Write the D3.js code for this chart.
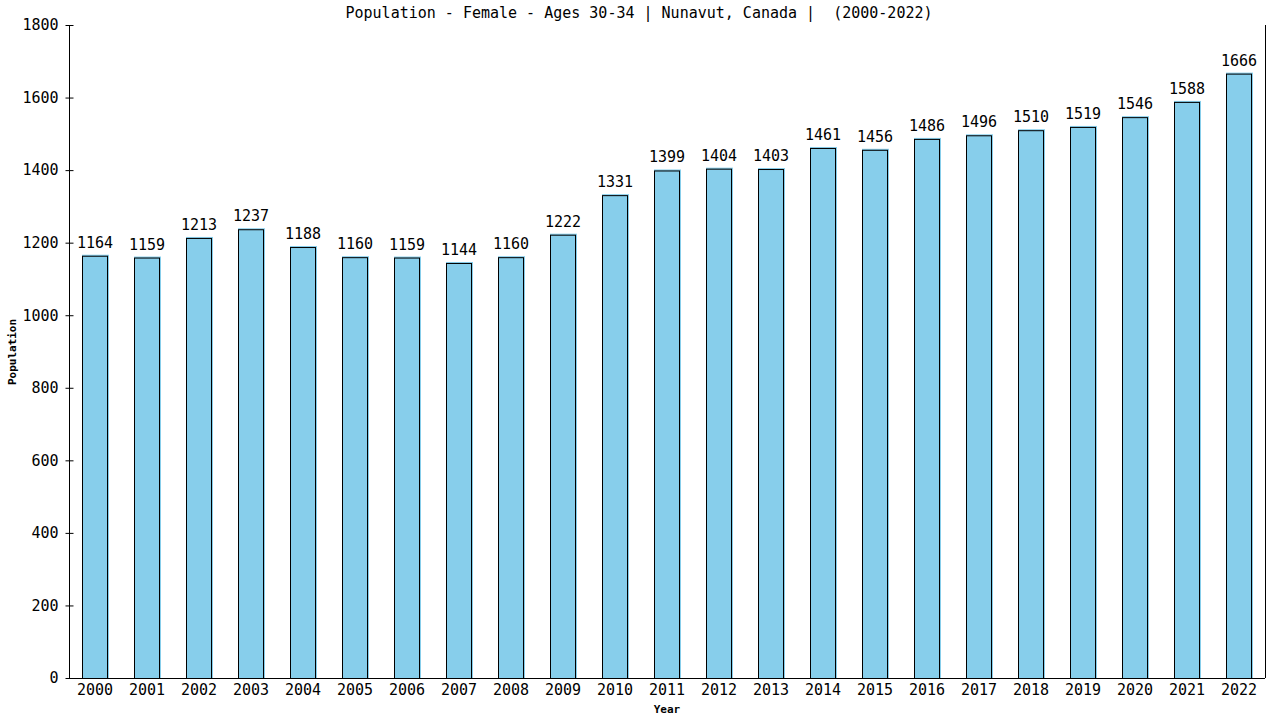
<!DOCTYPE html>
<html>
<head>
<meta charset="utf-8">
<script src="https://cdn.jsdelivr.net/npm/d3@7"></script>
<style>
  body { margin: 0; background: #fff; }
  text { font-family: "DejaVu Sans Mono", "Liberation Mono", monospace; fill: #000; }
</style>
</head>
<body>
<script>
// ------------------------------------------------------------
// data
// ------------------------------------------------------------
const years = ["2000", "2001", "2002", "2003", "2004", "2005", "2006", "2007", "2008", "2009", "2010",
               "2011", "2012", "2013", "2014", "2015", "2016", "2017", "2018", "2019", "2020", "2021", "2022"];
const population = [1164, 1159, 1213, 1237, 1188, 1160, 1159, 1144, 1160, 1222, 1331,
                    1399, 1404, 1403, 1461, 1456, 1486, 1496, 1510, 1519, 1546, 1588, 1666];
const yTicks = [0, 200, 400, 600, 800, 1000, 1200, 1400, 1600, 1800];
const title = "Population - Female - Ages 30-34 | Nunavut, Canada |  (2000-2022)";

// ------------------------------------------------------------
// dimensions
// ------------------------------------------------------------
const width = 1280, height = 720;
const margin = {top: 25, right: 15, bottom: 42, left: 69};

const svg = d3.select("body").append("svg")
    .attr("width", width)
    .attr("height", height);

const x = d3.scaleBand()
    .domain(years)
    .range([margin.left, width - margin.right])
    .paddingInner(0.5)
    .paddingOuter(0.25);

const y = d3.scaleLinear()
    .domain([0, 1800])
    .range([height - margin.bottom, margin.top]);

// bars - light blue fill, slightly offset black outline
const bars = svg.append("g");
bars.selectAll("rect.fill")
    .data(population)
    .enter().append("rect")
    .attr("class", "fill")
    .attr("x", (d, i) => x(years[i]))
    .attr("y", d => y(d) - 1)
    .attr("width", x.bandwidth() + 1)
    .attr("height", d => y(0) - y(d) + 1)
    .attr("fill", "#87ceeb");

bars.selectAll("rect.edge")
    .data(population)
    .enter().append("rect")
    .attr("class", "edge")
    .attr("x", (d, i) => x(years[i]) + 0.5)
    .attr("y", d => y(d) + 0.5)
    .attr("width", x.bandwidth() - 1)
    .attr("height", d => y(0) - y(d))
    .attr("fill", "none")
    .attr("stroke", "#000")
    .attr("stroke-width", 1);

// value labels
svg.append("g").selectAll("text")
    .data(population)
    .enter().append("text")
    .attr("x", (d, i) => x(years[i]) + x.bandwidth() / 2)
    .attr("y", d => y(d) - 8)
    .attr("text-anchor", "middle")
    .style("font-size", "15px")
    .text(d => d);

// y axis - ticks on both sides of the line
const yAxis = svg.append("g")
    .attr("transform", "translate(" + (margin.left + 0.5) + ",0)")
    .call(d3.axisLeft(y).tickValues(yTicks).tickSize(4).tickPadding(7).tickFormat(d3.format("d")));
yAxis.selectAll(".tick line").attr("x2", 4).attr("x1", -4);
yAxis.select(".domain").attr("d", "M0," + y(1800) + "V" + y(0));
yAxis.selectAll("text").style("font-size", "15px").attr("font-family", null);

// x axis - no tick marks
const xAxis = svg.append("g")
    .attr("transform", "translate(0," + (y(0) + 0.5) + ")")
    .call(d3.axisBottom(x).tickSize(0).tickPadding(6));
xAxis.select(".domain").attr("d", "M" + margin.left + ",0H" + (width - margin.right));
xAxis.selectAll("text").style("font-size", "15px").attr("font-family", null);

// right frame line
svg.append("line")
    .attr("x1", width - margin.right + 0.5).attr("x2", width - margin.right + 0.5)
    .attr("y1", y(1800)).attr("y2", y(0))
    .attr("stroke", "#000");

// title
svg.append("text")
    .attr("x", 639)
    .attr("y", 18)
    .attr("text-anchor", "middle")
    .style("font-size", "15px")
    .style("white-space", "pre")
    .text(title);

// axis titles
svg.append("text")
    .attr("x", 667)
    .attr("y", 713)
    .attr("text-anchor", "middle")
    .style("font-size", "11px")
    .style("font-weight", "bold")
    .text("Year");

svg.append("text")
    .attr("transform", "translate(16,352) rotate(-90)")
    .attr("text-anchor", "middle")
    .style("font-size", "11px")
    .style("font-weight", "bold")
    .text("Population");
</script>
</body>
</html>
